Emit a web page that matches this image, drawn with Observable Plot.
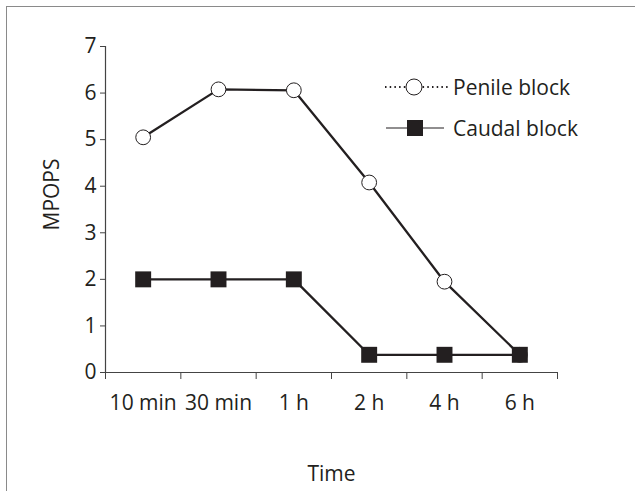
<!DOCTYPE html>
<html>
<head>
<meta charset="utf-8">
<script src="https://cdn.jsdelivr.net/npm/d3@7"></script>
<script src="https://cdn.jsdelivr.net/npm/@observablehq/plot@0.6"></script>
<style>
  body { margin: 0; background: #fff; }
  #wrap { position: relative; width: 635px; height: 491px; overflow: hidden; font-family: "Open Sans", sans-serif; color: #231f20; }
  #border { position: absolute; left: 6px; top: 6px; width: 700px; height: 600px; border-left: 1.5px solid #8a8a8a; border-top: 1.5px solid #8a8a8a; }
  #legend { position: absolute; left: 378px; top: 66px; font-size: 21px; }
  .row { display: flex; align-items: center; height: 41px; }
  .row span { margin-left: 1px; }
</style>
</head>
<body>
<div id="wrap">
  <div id="border"></div>
  <div id="chart"></div>
  <div id="legend"></div>
</div>
<script>
const times = ["10 min", "30 min", "1 h", "2 h", "4 h", "6 h"];
const penile = [5.05, 6.08, 6.06, 4.08, 1.95, 0.38];
const caudal = [2, 2, 2, 0.38, 0.38, 0.38];
const yTicks = [0, 1, 2, 3, 4, 5, 6, 7];
const seriesNames = ["Penile block", "Caudal block"];
const ink = "#231f20";

const rows = times.map((t, i) => ({t, i, penile: penile[i], caudal: caudal[i]}));

const chart = Plot.plot({
  width: 635,
  height: 491,
  marginLeft: 105,
  marginRight: 78,
  marginTop: 46,
  marginBottom: 119,
  style: {fontFamily: "Open Sans", fontSize: "21px", color: ink, background: "transparent", overflow: "visible"},
  x: {type: "linear", domain: [0, times.length]},
  y: {domain: [0, 7]},
  marks: [
    Plot.axisY(yTicks, {tickSize: 5, tickPadding: 4, label: null, stroke: "#444"}),
    Plot.axisX(d3.range(times.length + 1), {tickSize: 7, tickFormat: () => "", label: null, stroke: "#444"}),
    Plot.axisX(times.map((t, i) => i + 0.5), {tickSize: 0, tickPadding: 23, tickFormat: d => times[Math.round(d - 0.5)], label: null}),
    Plot.ruleX([0], {stroke: "#444", strokeWidth: 1.2}),
    Plot.ruleY([0], {stroke: "#444", strokeWidth: 1.2}),
    Plot.line(rows, {x: d => d.i + 0.5, y: "penile", stroke: ink, strokeWidth: 2.3}),
    Plot.dot(rows, {x: d => d.i + 0.5, y: "penile", r: 7.4, fill: "white", stroke: ink, strokeWidth: 1}),
    Plot.line(rows, {x: d => d.i + 0.5, y: "caudal", stroke: ink, strokeWidth: 2.3}),
    Plot.dot(rows, {x: d => d.i + 0.5, y: "caudal", symbol: "square", r: 9, fill: ink, stroke: "none"}),
    Plot.text(["Time"], {frameAnchor: "bottom", dy: 102, lineAnchor: "middle", fill: ink}),
    Plot.text(["MPOPS"], {frameAnchor: "left", textAnchor: "middle", rotate: -90, dx: -53, dy: -15, lineAnchor: "middle", fill: ink})
  ]
});
document.getElementById("chart").appendChild(chart);

// Legend
const legend = document.getElementById("legend");
const icons = [
  `<svg width="74" height="24"><line x1="7" y1="12" x2="70" y2="12" stroke="${ink}" stroke-width="2" stroke-dasharray="1.5,3.2"/><circle cx="36" cy="12" r="8" fill="white" stroke="${ink}" stroke-width="1"/></svg>`,
  `<svg width="74" height="24"><line x1="8" y1="12" x2="66" y2="12" stroke="${ink}" stroke-width="1.2"/><rect x="29" y="4" width="16" height="16" fill="${ink}"/></svg>`
];
seriesNames.forEach((name, k) => {
  const row = document.createElement("div");
  row.className = "row";
  row.innerHTML = icons[k] + `<span>${name}</span>`;
  legend.appendChild(row);
});
</script>
</body>
</html>
